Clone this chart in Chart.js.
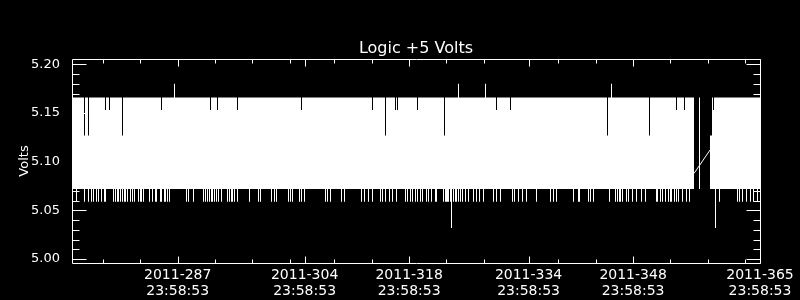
<!DOCTYPE html>
<html>
<head>
<meta charset="utf-8">
<title>Logic +5 Volts</title>
<script src="https://cdn.jsdelivr.net/npm/chart.js@4.4.1/dist/chart.umd.min.js"></script>
<style>
  html, body { margin: 0; padding: 0; background: #000; }
  #container { width: 800px; height: 300px; }
</style>
</head>
<body>
<div id="container"><canvas id="myChart"></canvas></div>
<script>
// time axis is day-of-year 2011 (fractional days), values in volts
const xStart = 272.84
const xEnd = 365.0
const columns = 688

const xMajorDays = [287, 304, 318, 334, 348, 365]
const xMajorLabels = [
  ['2011-287', '23:58:53'],
  ['2011-304', '23:58:53'],
  ['2011-318', '23:58:53'],
  ['2011-334', '23:58:53'],
  ['2011-348', '23:58:53'],
  ['2011-365', '23:58:53']
]
const xMinorDays = [277, 282, 292, 297, 302, 308, 313, 323, 328, 338, 343, 353, 358, 363]

const yMajor = [5.00, 5.05, 5.10, 5.15, 5.20]
const yMinor = [5.01, 5.02, 5.03, 5.04, 5.06, 5.07, 5.08, 5.09, 5.11, 5.12, 5.13, 5.14, 5.16, 5.17, 5.18, 5.19]

// the signal toggles between two levels, so it looks like a solid band
const bandLow = 5.072
const bandHigh = 5.166

// columns where the top of the band differs
const spikeUpVolts = 5.180
const spikeUpDays = [286.54, 324.59, 328.21, 345.09]
const dipShallowVolts = 5.153
const dipShallowDays = [277.30, 277.84, 284.80, 291.37, 292.30, 294.98, 303.58, 313.07, 316.24, 316.38,
  319.10, 329.68, 331.55, 353.79, 354.86, 358.75]
const dipDeepVolts = 5.127
const dipDeepDays = [274.49, 275.02, 279.58, 314.81, 322.71, 344.55, 350.18, 358.37, 358.51]

// columns where the bottom of the band differs
const spikeDownVolts = 5.059
const spikeDownDays = [273.47, 274.58, 275.02, 275.48, 275.69, 276.15, 276.36, 276.82, 277.13, 277.26, 277.39,
  278.37, 278.64, 278.91, 279.10, 279.31, 279.58, 279.85, 280.07, 280.30, 280.61, 280.88, 281.19,
  281.72, 281.95, 282.18, 282.45, 283.16, 283.56, 284.00, 284.19, 284.63, 284.86, 285.21, 285.43,
  285.66, 285.87, 288.21, 288.47, 289.09, 290.39, 290.52, 290.66, 290.97, 291.23, 291.46, 291.69,
  291.90, 292.26, 292.53, 292.93, 293.64, 293.91, 294.14, 294.37, 294.58, 294.98, 296.59, 297.80,
  298.07, 299.63, 299.90, 300.26, 301.87, 302.14, 302.41, 303.29, 303.56, 303.92,
  306.83, 307.09, 307.50, 308.97, 309.28, 311.65, 311.96, 312.53, 313.07, 314.10, 314.46, 314.90,
  315.35, 315.80, 316.34, 317.45, 317.76, 318.12, 318.39, 318.79, 319.10, 319.46, 319.82, 320.26,
  320.57, 321.03, 321.47, 321.70, 322.58, 322.81, 322.94, 323.08, 323.21, 323.34, 323.48, 323.92,
  324.15, 324.38, 324.64, 324.91, 325.18, 325.49, 325.98, 326.60, 326.96, 327.40, 327.94, 329.28,
  329.73, 330.18, 331.88, 332.18, 332.63, 333.22, 333.75,
  335.09, 336.97, 337.32, 337.77, 339.99, 340.66, 340.76, 342.06, 342.33, 342.67, 344.82, 345.71,
  345.94, 346.16, 346.34, 346.61, 347.15, 347.36, 347.95, 348.49, 349.06, 349.60, 351.07, 351.30,
  351.61, 351.97, 352.28, 352.72, 352.95, 353.18, 353.48, 353.75, 354.06, 354.65, 355.19, 355.53,
  359.55, 361.96, 362.23, 362.59, 363.13, 363.67, 364.13, 364.67]
const spikeDeepVolts = 5.032
const spikeDeepDays = [323.71, 359.02]

// data gap near the end of the period, bridged by a single straight line
const gapFrom = 356.20
const gapTo = 358.28
const gapSampleDays = [356.90]
const bridgeDays = [356.16, 358.31]
const bridgeVolts = [5.088, 5.112]

const binWidth = (xEnd - xStart) / columns
const binOf = d => Math.floor((d - xStart) / binWidth)

const lows = new Array(columns).fill(bandLow)
const highs = new Array(columns).fill(bandHigh)
spikeUpDays.forEach(d => { highs[binOf(d)] = spikeUpVolts })
dipShallowDays.forEach(d => { highs[binOf(d)] = dipShallowVolts })
dipDeepDays.forEach(d => { highs[binOf(d)] = dipDeepVolts })
spikeDownDays.forEach(d => { lows[binOf(d)] = spikeDownVolts })
spikeDeepDays.forEach(d => { lows[binOf(d)] = spikeDeepVolts })
const keep = gapSampleDays.map(binOf)

const band = []
for (let i = 0; i < columns; i++) {
  const day = xStart + (i + 0.5) * binWidth
  if (day > gapFrom && day < gapTo && keep.indexOf(i) < 0) continue
  band.push({ x: day, y: [lows[i], highs[i]] })
}

const frame = {
  id: 'frame',
  afterDraw(chart) {
    const { ctx, chartArea: a, scales: { x, y } } = chart
    const L = Math.round(a.left) + 0.5, R = Math.round(a.right) + 0.5
    const T = Math.round(a.top) + 0.5, B = Math.round(a.bottom) + 0.5
    ctx.save()
    ctx.strokeStyle = '#fff'
    ctx.lineWidth = 1
    ctx.beginPath()
    ctx.rect(L, T, R - L, B - T)
    const yt = (v, len) => {
      const p = Math.round(y.getPixelForValue(v)) + 0.5
      ctx.moveTo(L, p); ctx.lineTo(L + len, p)
      ctx.moveTo(R, p); ctx.lineTo(R - len, p)
    }
    const xt = (v, len) => {
      const p = Math.round(x.getPixelForValue(v)) + 0.5
      ctx.moveTo(p, B); ctx.lineTo(p, B - len)
      ctx.moveTo(p, T); ctx.lineTo(p, T + len)
    }
    yMajor.forEach(v => yt(v, 14))
    yMinor.forEach(v => yt(v, 7))
    xMajorDays.forEach(v => xt(v, 7))
    xMinorDays.forEach(v => xt(v, 4))
    ctx.stroke()

    ctx.fillStyle = '#fff'
    ctx.font = '16px "DejaVu Sans"'
    ctx.textAlign = 'center'
    ctx.textBaseline = 'alphabetic'
    ctx.fillText('Logic +5 Volts', (a.left + a.right) / 2, 53)

    ctx.font = '13px "DejaVu Sans"'
    ctx.translate(28, (a.top + a.bottom) / 2)
    ctx.rotate(-Math.PI / 2)
    ctx.fillText('Volts', 0, 0)
    ctx.restore()
  }
}

new Chart(document.getElementById('myChart').getContext('2d'), {
  type: 'bar',
  data: {
    datasets: [
      {
        data: band,
        backgroundColor: '#fff',
        borderWidth: 0,
        barThickness: 1,
        inflateAmount: 0
      },
      {
        type: 'line',
        data: bridgeDays.map((d, i) => ({ x: d, y: bridgeVolts[i] })),
        borderColor: '#fff',
        borderWidth: 1,
        pointRadius: 0
      }
    ]
  },
  options: {
    responsive: true,
    maintainAspectRatio: false,
    animation: false,
    devicePixelRatio: 1,
    layout: { padding: { left: 0, right: 40, top: 59, bottom: 0 } },
    plugins: { legend: { display: false }, tooltip: { enabled: false }, title: { display: false } },
    scales: {
      x: {
        type: 'linear',
        min: xStart,
        max: xEnd,
        offset: false,
        grid: { display: false },
        border: { display: false },
        afterFit: s => { s.height = 37 },
        afterBuildTicks: s => { s.ticks = xMajorDays.map(v => ({ value: v })) },
        ticks: {
          color: '#fff',
          autoSkip: false,
          maxRotation: 0,
          padding: -3,
          font: { family: 'DejaVu Sans', size: 14, lineHeight: 1.1 },
          callback: (v, i) => xMajorLabels[i]
        }
      },
      y: {
        min: 4.996,
        max: 5.2055,
        grid: { display: false },
        border: { display: false },
        afterFit: s => { s.width = 72 },
        afterBuildTicks: s => { s.ticks = yMajor.map(v => ({ value: v })) },
        ticks: {
          color: '#fff',
          padding: 4,
          font: { family: 'DejaVu Sans', size: 13 },
          callback: v => v.toFixed(2)
        }
      }
    }
  },
  plugins: [frame]
})
</script>
</body>
</html>
